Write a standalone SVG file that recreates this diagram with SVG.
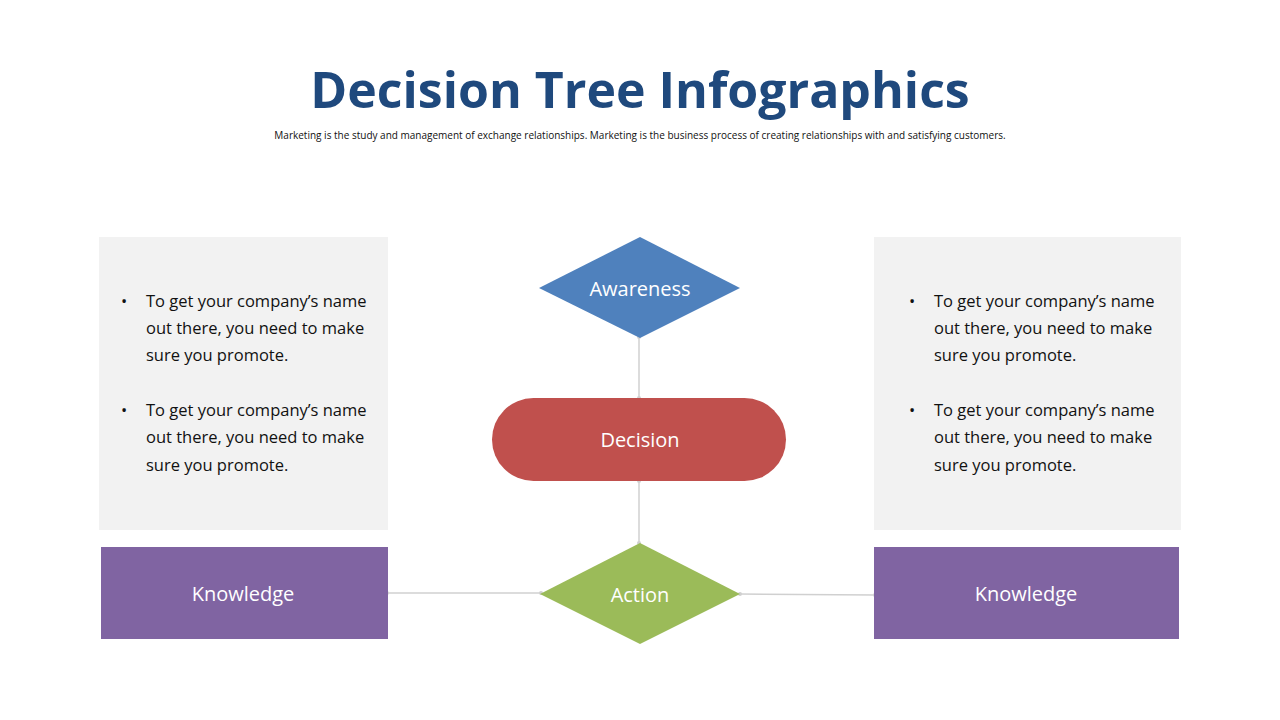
<svg xmlns="http://www.w3.org/2000/svg" width="1280" height="720" viewBox="0 0 1280 720">
<style>
.t{font-family:"Open Sans","Noto Sans",sans-serif}
.lbl{font-family:"Open Sans","Noto Sans",sans-serif;font-size:20px;fill:#fff;text-anchor:middle}
.body{font-family:"Open Sans","Noto Sans",sans-serif;font-size:16.5px;fill:#111}
.panel{fill:#f2f2f2}
.kn{fill:#8064a2}
.c{stroke:#d0d0d0;stroke-width:1.5;fill:none}
.d{fill:#d0d0d0}
</style>
<rect width="1280" height="720" fill="#fff"/>
<text class="t" x="640" y="108" text-anchor="middle" font-size="50" font-weight="bold" fill="#1f497d">Decision Tree Infographics</text>
<text class="t" x="640" y="139" text-anchor="middle" font-size="10" fill="#111">Marketing is the study and management of exchange relationships. Marketing is the business process of creating relationships with and satisfying customers.</text>
<g id="connectors">
<line class="c" x1="639" y1="337" x2="639" y2="398"/>
<line class="c" x1="639" y1="481" x2="639" y2="543"/>
<line class="c" x1="541" y1="593" x2="387" y2="593"/>
<line class="c" x1="740" y1="594" x2="875" y2="595"/>
<circle class="d" cx="639" cy="337" r="2"/><circle class="d" cx="639" cy="398" r="2"/>
<circle class="d" cx="639" cy="481" r="2"/><circle class="d" cx="639" cy="543" r="2"/>
<circle class="d" cx="541" cy="593" r="2"/><circle class="d" cx="387" cy="593" r="2"/>
<circle class="d" cx="740" cy="594" r="2"/><circle class="d" cx="875" cy="595" r="2"/>
</g>
<g id="left-panel">
<rect class="panel" x="99" y="237" width="289" height="293"/>
<text class="body"><tspan x="121" y="307">•</tspan><tspan x="146" y="307">To get your company’s name</tspan><tspan x="146" y="334">out there, you need to make</tspan><tspan x="146" y="361">sure you promote.</tspan><tspan x="121" y="416">•</tspan><tspan x="146" y="416">To get your company’s name</tspan><tspan x="146" y="443">out there, you need to make</tspan><tspan x="146" y="471">sure you promote.</tspan></text>
</g>
<g id="right-panel">
<rect class="panel" x="874" y="237" width="307" height="293"/>
<text class="body"><tspan x="909" y="307">•</tspan><tspan x="934" y="307">To get your company’s name</tspan><tspan x="934" y="334">out there, you need to make</tspan><tspan x="934" y="361">sure you promote.</tspan><tspan x="909" y="416">•</tspan><tspan x="934" y="416">To get your company’s name</tspan><tspan x="934" y="443">out there, you need to make</tspan><tspan x="934" y="471">sure you promote.</tspan></text>
</g>
<g id="awareness">
<polygon points="640,237 740,288 640,338 539,288" fill="#4f81bd"/>
<text class="lbl" x="640" y="296">Awareness</text>
</g>
<g id="decision">
<rect x="492" y="398" width="294" height="83" rx="41.5" fill="#c0504d"/>
<text class="lbl" x="640" y="447">Decision</text>
</g>
<g id="action">
<polygon points="640,543 740,594 640,644 540,594" fill="#9bbb59"/>
<text class="lbl" x="640" y="602">Action</text>
</g>
<g id="knowledge-left">
<rect class="kn" x="101" y="547" width="287" height="92"/>
<text class="lbl" x="243" y="601">Knowledge</text>
</g>
<g id="knowledge-right">
<rect class="kn" x="874" y="547" width="305" height="92"/>
<text class="lbl" x="1026" y="601">Knowledge</text>
</g>
</svg>
